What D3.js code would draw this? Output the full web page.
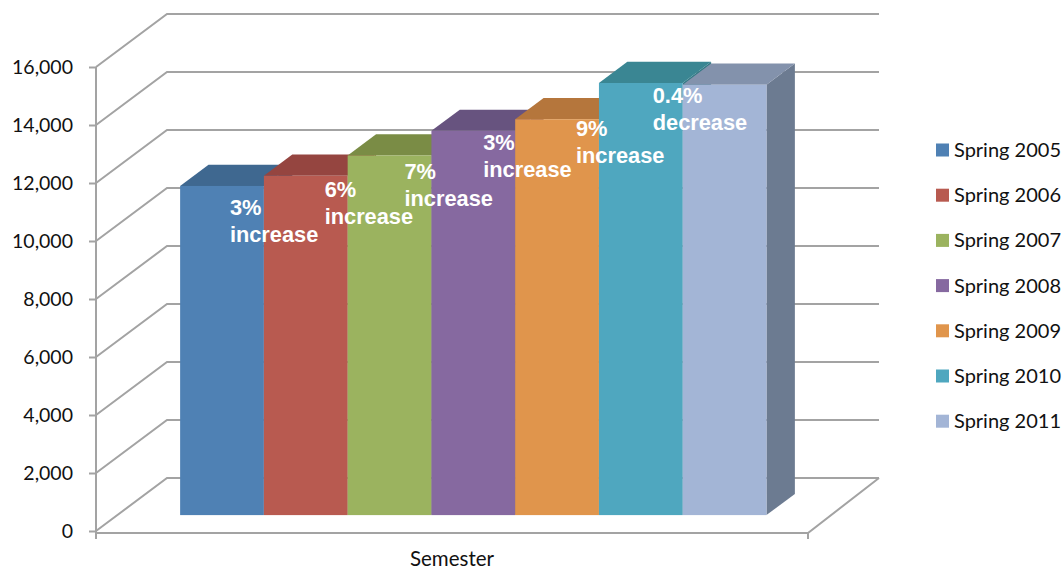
<!DOCTYPE html>
<html>
<head>
<meta charset="utf-8">
<script src="https://cdn.jsdelivr.net/npm/d3@7"></script>
<style>
  html, body { margin: 0; padding: 0; background: #fff; }
  svg { display: block; }
</style>
</head>
<body>
<svg id="chart" width="1063" height="570"></svg>
<script>
// Spring enrollment by semester
const semesters = ["Spring 2005", "Spring 2006", "Spring 2007", "Spring 2008", "Spring 2009", "Spring 2010", "Spring 2011"];
const enrollment = [11350, 11700, 12400, 13250, 13650, 14900, 14840];
const changeLabels = ["3%", "6%", "7%", "3%", "9%", "0.4%"];
const changeWords = ["increase", "increase", "increase", "increase", "increase", "decrease"];
const yTicks = [0, 2000, 4000, 6000, 8000, 10000, 12000, 14000, 16000];
const categoryLabel = "Semester";

// colours: front face, top face, side face
const frontColors = ["#4F81B4", "#B85A50", "#9BB35F", "#8669A0", "#E0954C", "#4FA7BF", "#A3B5D6"];
const topColors   = ["#3F6890", "#954540", "#7A8C45", "#67537F", "#B5763C", "#3A8693", "#8392AC"];
const sideColors  = ["#3A5F86", "#86403A", "#6E8040", "#5C4A72", "#A56B36", "#357A86", "#6C7B91"];

const svg = d3.select("#chart");
const gridColor = "#A3A3A3";
const labelFont = "Lato, 'Open Sans', sans-serif";

// plot frame (front plane) and depth vector to the back wall
const left = 96, right = 808;
const depth = { dx: 71, dy: -53 };
const barDepth = [0.30, 0.70];

const y = d3.scaleLinear().domain([0, 16000]).range([531, 67]);
const x = d3.scaleBand().domain(semesters).range([left, right]).paddingInner(0).paddingOuter(0.75);

// walls: gridlines running from the front axis, up the side wall and across the back wall
const walls = svg.append("g");
yTicks.forEach(v => {
  const yf = y(v);
  walls.append("path")
    .attr("d", `M${left},${yf} L${left + depth.dx},${yf + depth.dy} L${right + depth.dx},${yf + depth.dy}`)
    .attr("fill", "none").attr("stroke", gridColor).attr("stroke-width", 2);
});
// floor: front edge and right edge
walls.append("path")
  .attr("d", `M${left},${y(0) + 2} L${right},${y(0) + 2} L${right + depth.dx},${y(0) + depth.dy}`)
  .attr("fill", "none").attr("stroke", gridColor).attr("stroke-width", 2);
// category axis end ticks
[left, right].forEach(xx => {
  walls.append("line").attr("x1", xx).attr("x2", xx).attr("y1", y(0) + 2).attr("y2", y(0) + 8)
    .attr("stroke", gridColor).attr("stroke-width", 2);
});

// value axis
const yAxis = d3.axisLeft(y).tickValues(yTicks).tickFormat(d3.format(",")).tickSize(7).tickSizeOuter(0);
const axisG = svg.append("g").attr("transform", `translate(${left},0)`).call(yAxis);
axisG.select(".domain").attr("stroke", gridColor).attr("stroke-width", 2)
  .attr("d", `M0,${y(16000)}V${y(0) + 8}`);
axisG.selectAll(".tick line").attr("stroke", gridColor).attr("stroke-width", 2);
axisG.selectAll(".tick text")
  .attr("x", -23).attr("dy", "0.35em")
  .attr("fill", "#111").style("font-family", labelFont).style("font-size", "19.5px");

// 3D bars, drawn left to right so each covers its neighbour's side face
const bars = svg.append("g");
const fx = depth.dx * barDepth[0], fy = depth.dy * barDepth[0];
const bdx = depth.dx * (barDepth[1] - barDepth[0]), bdy = depth.dy * (barDepth[1] - barDepth[0]);
semesters.forEach((s, i) => {
  const x0 = x(s) + fx, x1 = x0 + x.bandwidth();
  const yt = y(enrollment[i]) + fy, yb = y(0) + fy;
  const g = bars.append("g");
  g.append("path")
    .attr("d", `M${x1},${yt} L${x1 + bdx},${yt + bdy} L${x1 + bdx},${yb + bdy} L${x1},${yb} Z`)
    .attr("fill", sideColors[i]);
  g.append("path")
    .attr("d", `M${x0},${yt} L${x1},${yt} L${x1 + bdx},${yt + bdy} L${x0 + bdx},${yt + bdy} Z`)
    .attr("fill", topColors[i]);
  g.append("rect")
    .attr("x", x0).attr("y", yt).attr("width", x1 - x0).attr("height", yb - yt)
    .attr("fill", frontColors[i]);
});

// year-over-year change notes, placed near the left edge of the later bar
const noteDx = [-34, -23, -27, -32, -23, -30];
const noteDy = [39, 41, 48, 31, 53, 18];
const notes = svg.append("g")
  .style("font-family", "'Liberation Sans', Arial, sans-serif")
  .style("font-size", "21.8px").style("font-weight", "bold").attr("fill", "#fff");
changeLabels.forEach((lab, i) => {
  const s = semesters[i + 1];
  const tx = x(s) + fx + noteDx[i];
  const ty = y(enrollment[i + 1]) + fy + noteDy[i];
  const t = notes.append("text").attr("x", tx).attr("y", ty);
  t.append("tspan").attr("x", tx).text(lab);
  t.append("tspan").attr("x", tx).attr("dy", 27).text(changeWords[i]);
});

// category title
svg.append("text")
  .attr("x", (left + right) / 2).attr("y", 566).attr("text-anchor", "middle")
  .attr("fill", "#111").style("font-family", labelFont).style("font-size", "20.5px")
  .text(categoryLabel);

// legend
const legend = svg.append("g").attr("transform", "translate(936,150)");
semesters.forEach((s, i) => {
  const row = legend.append("g").attr("transform", `translate(0,${i * 45.2})`);
  row.append("rect").attr("x", 0).attr("y", -6.5).attr("width", 13).attr("height", 13).attr("fill", frontColors[i]);
  row.append("text").attr("x", 18).attr("y", 0).attr("dy", "0.35em")
    .attr("fill", "#111").style("font-family", labelFont).style("font-size", "20px")
    .text(s);
});
</script>
</body>
</html>
